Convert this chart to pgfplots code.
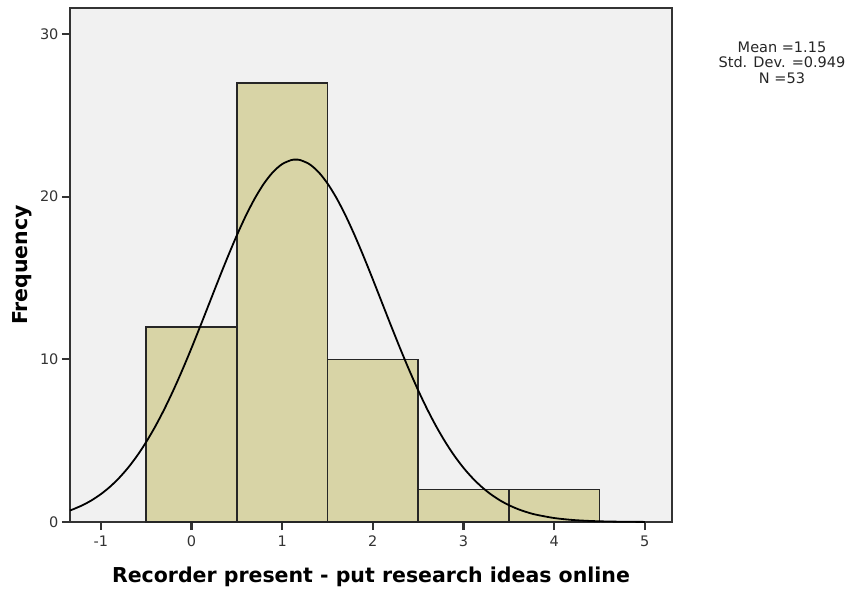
\documentclass[border=0pt]{standalone}
\usepackage{pgfplots}
\pgfplotsset{compat=1.18}
\usepackage{fontspec}
\setmainfont{DejaVu Sans}
\definecolor{bg}{HTML}{F1F1F1}
\definecolor{barfill}{HTML}{D8D4A6}
\definecolor{axframe}{HTML}{333333}
\begin{document}
\begin{tikzpicture}
\begin{axis}[
  scale only axis,
  width=602pt, height=514pt,
  xmin=-1.34, xmax=5.30,
  ymin=0, ymax=31.6,
  axis background/.style={fill=bg},
  axis line style={axframe, line width=1.8pt},
  xtick={-1,0,1,2,3,4,5},
  xticklabels={{-1},0,1,2,3,4,5},
  ytick={0,10,20,30},
  yticklabels={0,10,20,30},
  tick align=outside,
  tick pos=left,
  major tick length=8pt,
  tick style={draw=axframe, line width=2.2pt},
  ticklabel style={font=\fontsize{14.5}{16}\selectfont, text=black!80},
  xticklabel style={yshift=-2pt},
  xlabel={\textbf{Recorder present - put research ideas online}},
  ylabel={\textbf{Frequency}},
  label style={font=\fontsize{20.5}{22}\selectfont},
  xlabel style={yshift=-14pt},
  ylabel style={yshift=1pt},
]
\addplot[ybar interval, fill=barfill, draw=black!85, line width=1.6pt]
  coordinates {(-0.5,12) (0.5,27) (1.5,10) (2.5,2) (3.5,2) (4.5,2)};
\addplot[black, line width=1.8pt, smooth] coordinates {
(-1.34,0.713) (-1.30,0.795) (-1.20,1.038) (-1.10,1.340) (-1.00,1.712)
(-0.90,2.161) (-0.80,2.699) (-0.70,3.332) (-0.60,4.069) (-0.50,4.915)
(-0.40,5.870) (-0.30,6.934) (-0.20,8.100) (-0.10,9.358) (0.00,10.692)
(0.10,12.081) (0.20,13.500) (0.30,14.919) (0.40,16.304) (0.50,17.621)
(0.60,18.835) (0.70,19.911) (0.80,20.815) (0.90,21.520) (1.00,22.003)
(1.10,22.249) (1.15,22.280) (1.20,22.249) (1.30,22.003) (1.40,21.520)
(1.50,20.815) (1.60,19.911) (1.70,18.835) (1.80,17.621) (1.90,16.304)
(2.00,14.919) (2.10,13.500) (2.20,12.081) (2.30,10.692) (2.40,9.358)
(2.50,8.100) (2.60,6.934) (2.70,5.870) (2.80,4.915) (2.90,4.069)
(3.00,3.332) (3.10,2.699) (3.20,2.161) (3.30,1.712) (3.40,1.340)
(3.50,1.038) (3.60,0.795) (3.70,0.603) (3.80,0.451) (4.00,0.245)
(4.20,0.127) (4.40,0.063) (4.60,0.030) (4.80,0.014) (5.00,0.006)
};
\end{axis}
\node[align=center, font=\fontsize{14.5}{15.5}\selectfont, anchor=north, text=black!85]
  at ([shift={(110pt,-30pt)}]current axis.north east)
  {Mean =1.15\\Std. Dev. =0.949\\N =53};
\pgfresetboundingbox
\path ([shift={(-70pt,-71pt)}]current axis.south west) rectangle ([shift={(179pt,8pt)}]current axis.north east);
\end{tikzpicture}
\end{document}
